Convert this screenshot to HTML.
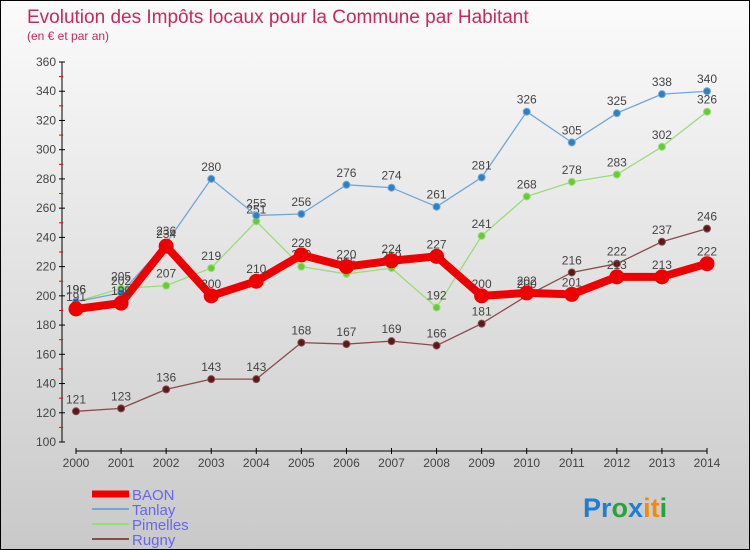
<!DOCTYPE html>
<html><head><meta charset="utf-8"><style>
body{margin:0;width:750px;height:550px;overflow:hidden;font-family:"Liberation Sans",sans-serif}
#wrap{position:absolute;left:0;top:0;width:748px;height:548px;border:1px solid #000;background:linear-gradient(#fbfbfb,#c9c9c9)}
</style></head><body>
<div id="wrap">
<svg id="chart" width="748" height="548" style="position:absolute;left:0;top:0">
<text x="26" y="22" font-size="19" fill="#c8285a">Evolution des Impôts locaux pour la Commune par Habitant</text>
<text x="26" y="39" font-size="12" fill="#c8285a">(en € et par an)</text>
<g id="axes"></g><g id="series"></g><g id="legend"></g>
<text x="582" y="516" font-size="27" font-weight="bold"><tspan fill="#1e7fd0">Pr</tspan><tspan fill="#27a33a">o</tspan><tspan fill="#1e7fd0">x</tspan><tspan fill="#f08a0c">it</tspan><tspan fill="#27a33a">i</tspan></text>
</svg></div>
<script>
const years=[2000,2001,2002,2003,2004,2005,2006,2007,2008,2009,2010,2011,2012,2013,2014];
const yTicks=[100,120,140,160,180,200,220,240,260,280,300,320,340,360];
const baon=[191,195,234,200,210,228,220,224,227,200,202,201,213,213,222];
const tanlay=[196,202,236,280,255,256,276,274,261,281,326,305,325,338,340];
const pimelles=[196,205,207,219,251,220,215,219,192,241,268,278,283,302,326];
const rugny=[121,123,136,143,143,168,167,169,166,181,200,216,222,237,246];
const NS="http://www.w3.org/2000/svg";
function X(i){return 75+i*(706-75)/(years.length-1);}
function Y(v){return 441-(v-100)*380/260;}
function mk(t,a,p){const e=document.createElementNS(NS,t);for(const k in a)e.setAttribute(k,a[k]);p.appendChild(e);return e;}
const ax=document.getElementById('axes');
let e=mk('line',{x1:61,y1:Y(360),x2:61,y2:Y(100),stroke:'#000'},ax);


yTicks.forEach(v=>{
 mk('line',{x1:58,y1:Y(v),x2:64,y2:Y(v),stroke:'#000'},ax);
 if(v<360)mk('line',{x1:58,y1:Y(v+10),x2:62,y2:Y(v+10),stroke:'#e00'},ax);
 const t=mk('text',{x:55,y:Y(v)+4,'font-size':12,fill:'#444','text-anchor':'end'},ax);t.textContent=v;
 
 
});
e=mk('line',{x1:X(0),y1:450,x2:X(14),y2:450,stroke:'#000'},ax);


years.forEach((y,i)=>{
 mk('line',{x1:X(i),y1:447,x2:X(i),y2:453,stroke:'#000'},ax);
 const t=mk('text',{x:X(i),y:466,'font-size':12,fill:'#444','text-anchor':'middle'},ax);t.textContent=y;
 
 
});
const sg=document.getElementById('series');
function draw(vals,color,w,r,name,dot){
 const g=mk('g',{},sg);
 
 
 mk('polyline',{points:vals.map((v,i)=>X(i)+','+Y(v)).join(' '),fill:'none',stroke:color,'stroke-width':w,'stroke-linejoin':'round'},g);
 vals.forEach((v,i)=>{
  const c=mk('circle',{cx:X(i),cy:Y(v),r:r,fill:dot,stroke:color,'stroke-width':1},g);
  
  
  const t=mk('text',{x:X(i),y:Y(v)-8,'font-size':12,fill:'#444','text-anchor':'middle'},g);t.textContent=v;
  
  
 });
}
draw(rugny,'#8b4b4b',1.3,3.5,'rugny','#5a1a1a');
draw(pimelles,'#99dd77',1.3,3.5,'pimelles','#66cc33');
draw(tanlay,'#6fa8d6',1.3,3.5,'tanlay','#2f7fc4');
draw(baon,'#ee0000',8,7,'baon','#ee0000');
const lg=document.getElementById('legend');
[['BAON','#ee0000',7],['Tanlay','#6fa8d6',2],['Pimelles','#99dd77',2],['Rugny','#8b4b4b',2]].forEach((s,i)=>{
 const y=493+i*15;
 const g=mk('g',{},lg);
 
 
 mk('line',{x1:91,y1:y,x2:128,y2:y,stroke:s[1],'stroke-width':s[2]},g);
 const t=mk('text',{x:131,y:y+6,'font-size':15,fill:'#6666ee'},g);t.textContent=s[0];
});
</script>
</body></html>
